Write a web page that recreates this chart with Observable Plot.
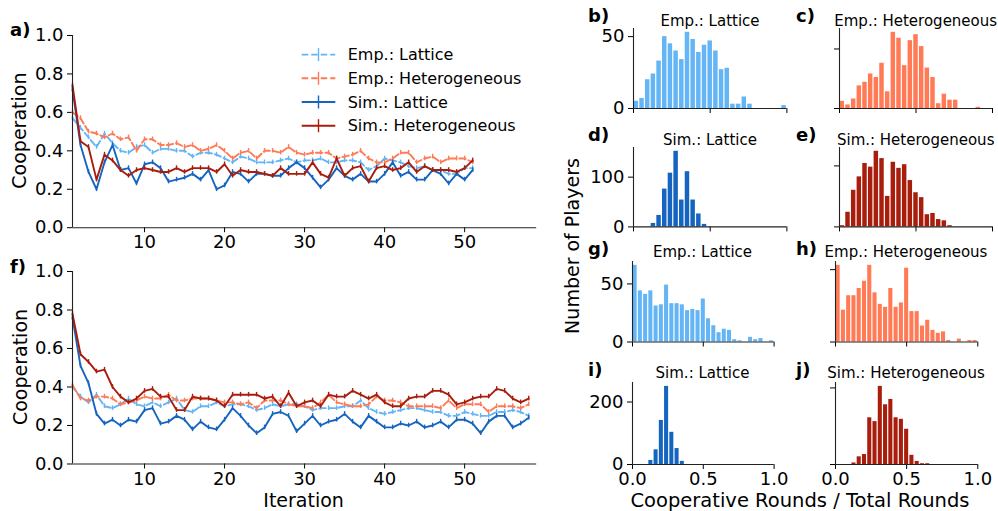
<!DOCTYPE html>
<html><head><meta charset="utf-8">
<script src="https://cdn.jsdelivr.net/npm/d3@7"></script>
<script src="https://cdn.jsdelivr.net/npm/@observablehq/plot@0.6"></script>
<style>
body{margin:0;background:#fff;}
#fig{position:relative;width:998px;height:511px;overflow:hidden;background:#fff;font-family:"DejaVu Sans",sans-serif;color:#000;}
.pl{position:absolute;}
#overlay{position:absolute;left:0;top:0;pointer-events:none;}
</style></head><body><div id="fig"></div>
<script>
// ---------- data ----------
const seriesNames = ["Emp.: Lattice", "Emp.: Heterogeneous", "Sim.: Lattice", "Sim.: Heterogeneous"];
const iterationTicks = [10, 20, 30, 40, 50];
const coopTicks = [0, 0.2, 0.4, 0.6, 0.8, 1.0];
const errHalf = 0.012;

// panel a (iterations 1..51)
const empLatA = [0.57,0.52,0.47,0.42,0.49,0.44,0.40,0.39,0.42,0.43,0.39,0.41,0.41,0.40,0.40,0.37,0.39,0.39,0.38,0.36,0.34,0.37,0.36,0.34,0.34,0.34,0.35,0.36,0.34,0.35,0.35,0.36,0.34,0.34,0.35,0.35,0.34,0.30,0.32,0.36,0.35,0.34,0.32,0.31,0.32,0.30,0.30,0.28,0.28,0.31,0.31];
const empHetA = [0.60,0.57,0.50,0.49,0.47,0.49,0.46,0.47,0.40,0.46,0.46,0.43,0.43,0.44,0.42,0.43,0.40,0.41,0.43,0.40,0.36,0.39,0.40,0.36,0.40,0.40,0.39,0.42,0.39,0.38,0.39,0.39,0.39,0.36,0.37,0.38,0.40,0.36,0.34,0.34,0.36,0.39,0.39,0.34,0.36,0.37,0.34,0.36,0.36,0.36,0.34];
const simLatA = [0.72,0.43,0.29,0.20,0.34,0.43,0.30,0.31,0.23,0.33,0.34,0.31,0.24,0.25,0.26,0.28,0.25,0.30,0.20,0.22,0.29,0.28,0.24,0.28,0.28,0.27,0.27,0.31,0.34,0.31,0.26,0.21,0.25,0.31,0.27,0.25,0.28,0.24,0.24,0.28,0.34,0.27,0.29,0.25,0.25,0.30,0.28,0.23,0.28,0.25,0.30];
const simHetA = [0.74,0.45,0.42,0.25,0.38,0.35,0.30,0.27,0.30,0.31,0.30,0.29,0.29,0.31,0.29,0.31,0.31,0.31,0.29,0.33,0.27,0.30,0.29,0.29,0.28,0.27,0.31,0.28,0.28,0.28,0.34,0.28,0.26,0.36,0.27,0.31,0.32,0.24,0.31,0.32,0.30,0.31,0.34,0.29,0.32,0.30,0.30,0.30,0.29,0.31,0.35];

// panel f (iterations 1..58)
const empLatF = [0.40,0.35,0.32,0.36,0.30,0.29,0.31,0.34,0.31,0.30,0.32,0.30,0.32,0.34,0.28,0.27,0.30,0.30,0.32,0.30,0.31,0.31,0.30,0.28,0.29,0.31,0.30,0.31,0.31,0.30,0.28,0.29,0.29,0.29,0.30,0.30,0.33,0.29,0.27,0.26,0.27,0.28,0.29,0.29,0.28,0.27,0.27,0.25,0.25,0.27,0.26,0.25,0.25,0.27,0.27,0.28,0.27,0.25];
const empHetF = [0.41,0.34,0.33,0.35,0.35,0.34,0.31,0.32,0.33,0.35,0.34,0.34,0.36,0.33,0.33,0.34,0.34,0.34,0.33,0.32,0.32,0.31,0.32,0.29,0.33,0.33,0.33,0.31,0.30,0.30,0.29,0.32,0.36,0.32,0.31,0.30,0.30,0.31,0.35,0.33,0.33,0.32,0.30,0.30,0.30,0.30,0.29,0.33,0.29,0.31,0.31,0.31,0.27,0.30,0.30,0.30,0.29,0.31];
const simLatF = [0.76,0.51,0.42,0.26,0.21,0.23,0.20,0.23,0.22,0.28,0.29,0.21,0.22,0.25,0.23,0.18,0.22,0.19,0.18,0.23,0.29,0.25,0.20,0.16,0.19,0.26,0.27,0.25,0.17,0.21,0.25,0.20,0.22,0.23,0.26,0.22,0.19,0.25,0.22,0.19,0.19,0.21,0.20,0.22,0.19,0.20,0.22,0.19,0.23,0.23,0.21,0.16,0.22,0.25,0.25,0.19,0.21,0.24];
const simHetF = [0.78,0.57,0.53,0.48,0.49,0.40,0.35,0.32,0.34,0.38,0.39,0.35,0.35,0.28,0.28,0.35,0.34,0.34,0.33,0.30,0.36,0.36,0.36,0.36,0.34,0.35,0.30,0.37,0.30,0.32,0.33,0.30,0.36,0.35,0.35,0.38,0.36,0.34,0.36,0.32,0.30,0.30,0.34,0.35,0.35,0.38,0.38,0.36,0.31,0.32,0.34,0.35,0.35,0.39,0.38,0.34,0.32,0.34];

// histograms: counts of players per bin (27 equal bins over 0..1)
const histXTicks = [0, 0.5, 1.0];
const histB = [5,7,20,24,33,50,45,40,34,53,48,39,44,47,40,27,28,3,3,8,3,0,0,0,0,0,2];
const histC = [6,3,8,19,22,29,26,38,14,64,59,36,57,62,52,34,26,4,12,7,7,0,0,0,1,0,0];
const histD = [0,0,0,7,23,76,108,152,54,111,54,26,5,0,0,0,0,0,0,0,0,0,0,0,0,0,0];
const histE = [1,12,30,41,52,49,62,56,25,53,48,51,38,28,24,10,11,6,5,1,0,0,0,0,0,0,0];
const histG = [66,44,41,44,31,32,49,33,33,32,27,28,27,37,20,14,8,11,10,2,1,0,4,2,3,0,1];
const histH = [53,22,32,32,37,42,53,34,26,24,37,24,27,51,21,21,11,15,8,6,7,1,0,2,0,1,1];
const histI = [0,0,0,13,47,141,250,103,51,10,0,0,0,0,0,0,0,0,0,0,0,0,0,0,0,0,0];
const histJ = [0,0,0,2,10,13,61,56,102,78,85,61,59,46,12,4,1,1,0,0,0,0,0,0,0,0,0];

// ---------- styles ----------
const COL = {empLat: "#64b5f6", empHet: "#ff7a55", simLat: "#1565c0", simHet: "#a81d0c"};
const SPINE = "#222";
const FONT = "DejaVu Sans";
const fig = document.getElementById("fig");

function place(svg, x0, y0, x1, y1, pad) {
  const div = document.createElement("div");
  div.className = "pl";
  div.style.left = (x0 - pad.l) + "px";
  div.style.top = (y0 - pad.t) + "px";
  div.appendChild(svg);
  fig.appendChild(div);
}

function baseStyle(fs) {
  return {background: "transparent", overflow: "visible", fontSize: fs + "px", fontFamily: FONT, maxWidth: "none", color: "#000"};
}

function linePanel(series, frame) {
  const pad = {l: 75, r: 20, t: 20, b: 40};
  const [x0, y0, x1, y1] = frame;
  const marks = [];
  for (const s of series) {
    const data = s.values.map((v, i) => ({t: i + 1, v}));
    marks.push(Plot.line(data, {x: "t", y: "v", stroke: s.color, strokeWidth: 1.9, strokeDasharray: s.dashed ? "6.5,3" : null}));
    marks.push(Plot.ruleX(data, {x: "t", y1: d => d.v - errHalf, y2: d => d.v + errHalf, stroke: s.color, strokeWidth: 1.4}));
  }
  marks.push(Plot.ruleX([1], {stroke: SPINE, strokeWidth: 1.1}));
  marks.push(Plot.ruleY([0], {stroke: SPINE, strokeWidth: 1.1}));
  const svg = Plot.plot({
    width: (x1 - x0) + pad.l + pad.r,
    height: (y1 - y0) + pad.t + pad.b,
    marginLeft: pad.l, marginRight: pad.r, marginTop: pad.t, marginBottom: pad.b,
    x: {domain: [1, 59], ticks: iterationTicks, tickSize: 5, tickPadding: 3, label: null},
    y: {domain: [0, 1], ticks: coopTicks, tickFormat: ".1f", tickSize: 5, tickPadding: 4, label: null},
    style: baseStyle(18),
    marks
  });
  place(svg, x0, y0, x1, y1, pad);
}

function histPanel(counts, color, frame, yTick, showY, showX) {
  const pad = {l: 60, r: 20, t: 10, b: 40};
  const [x0, y0, x1, y1] = frame;
  const n = counts.length;
  const data = counts.map((c, i) => ({a: i / n, b: (i + 1) / n, c}));
  const svg = Plot.plot({
    width: (x1 - x0) + pad.l + pad.r,
    height: (y1 - y0) + pad.t + pad.b,
    marginLeft: pad.l, marginRight: pad.r, marginTop: pad.t, marginBottom: pad.b,
    x: {domain: [0, 1], ticks: histXTicks, tickFormat: showX ? ".1f" : () => "", tickSize: 5, tickPadding: 3, label: null},
    y: {domain: [0, d3.max(counts) * 1.05], ticks: [0, yTick], tickFormat: showY ? "d" : () => "", tickSize: 5, tickPadding: 4, label: null},
    style: baseStyle(18),
    marks: [
      Plot.rectY(data, {x1: "a", x2: "b", y: "c", fill: color, insetLeft: 0.6, insetRight: 0.6}),
      Plot.ruleX([0], {stroke: SPINE, strokeWidth: 1.1}),
      Plot.ruleY([0], {stroke: SPINE, strokeWidth: 1.1})
    ]
  });
  place(svg, x0, y0, x1, y1, pad);
}

const panelA = [
  {values: empLatA, color: COL.empLat, dashed: true},
  {values: empHetA, color: COL.empHet, dashed: true},
  {values: simLatA, color: COL.simLat, dashed: false},
  {values: simHetA, color: COL.simHet, dashed: false}
];
const panelF = [
  {values: empLatF, color: COL.empLat, dashed: true},
  {values: empHetF, color: COL.empHet, dashed: true},
  {values: simLatF, color: COL.simLat, dashed: false},
  {values: simHetF, color: COL.simHet, dashed: false}
];

linePanel(panelA, [71.5, 34.5, 535.7, 226.7]);
linePanel(panelF, [71.5, 270.8, 535.7, 463.3]);

histPanel(histB, COL.empLat, [633.3, 28.3, 786.7, 108.3], 50, true, false);
histPanel(histC, COL.empHet, [839.3, 28.3, 992.3, 108.3], 50, false, false);
histPanel(histD, COL.simLat, [633.3, 147.3, 786.7, 226.7], 100, true, false);
histPanel(histE, COL.simHet, [839.3, 147.3, 992.3, 226.7], 50, false, false);
histPanel(histG, COL.empLat, [631.7, 261, 773.3, 341.5], 50, true, false);
histPanel(histH, COL.empHet, [835, 261, 977.3, 341.5], 50, false, false);
histPanel(histI, COL.simLat, [631.7, 382, 773.3, 464], 200, true, true);
histPanel(histJ, COL.simHet, [835, 382, 977.3, 464], 100, false, true);

// ---------- overlay texts ----------
const NS = "http://www.w3.org/2000/svg";
const ov = document.createElementNS(NS, "svg");
ov.setAttribute("id", "overlay");
ov.setAttribute("width", 998); ov.setAttribute("height", 511);
ov.style.fontFamily = FONT;
fig.appendChild(ov);
function txt(s, x, y, o = {}) {
  const t = document.createElementNS(NS, "text");
  t.textContent = s;
  t.setAttribute("x", x); t.setAttribute("y", y);
  t.setAttribute("font-size", o.size || 18);
  if (o.bold) t.setAttribute("font-weight", "bold");
  if (o.anchor) t.setAttribute("text-anchor", o.anchor);
  if (o.rotate) t.setAttribute("transform", `rotate(-90 ${x} ${y})`);
  if (o.dy) t.setAttribute("dy", o.dy);
  t.setAttribute("fill", "#000");
  ov.appendChild(t);
}
function ln(x1, y1, x2, y2, color, w, dash) {
  const l = document.createElementNS(NS, "line");
  l.setAttribute("x1", x1); l.setAttribute("y1", y1);
  l.setAttribute("x2", x2); l.setAttribute("y2", y2);
  l.setAttribute("stroke", color); l.setAttribute("stroke-width", w);
  if (dash) l.setAttribute("stroke-dasharray", dash);
  ov.appendChild(l);
}

// panel letters
const letters = [["a)", 10, 36], ["f)", 10, 273], ["b)", 588, 22], ["c)", 796, 22], ["d)", 588, 141], ["e)", 796, 141], ["g)", 588, 255], ["h)", 796, 255], ["i)", 588, 376], ["j)", 796, 376]];
for (const [s, x, y] of letters) txt(s, x, y, {bold: true, size: 18});

// histogram titles
const titles = [
  [seriesNames[0], 710, 26], [seriesNames[1], 915.7, 26],
  [seriesNames[2], 710, 145], [seriesNames[3], 915.7, 145],
  [seriesNames[0], 702.5, 257], [seriesNames[1], 906, 257],
  [seriesNames[2], 702.5, 378], [seriesNames[3], 906, 378]
];
for (const [s, x, y] of titles) txt(s, x, y, {size: 15, anchor: "middle"});

// axis labels
txt("Cooperation", 26.5, 130.6, {size: 19, anchor: "middle", rotate: true});
txt("Cooperation", 26.5, 367, {size: 19, anchor: "middle", rotate: true});
txt("Number of Players", 579, 246, {size: 19, anchor: "middle", rotate: true});
txt("Iteration", 303.6, 506.5, {size: 19, anchor: "middle"});
txt("Cooperative Rounds / Total Rounds", 800, 507, {size: 19.5, anchor: "middle"});

// legend
const legend = [
  [seriesNames[0], COL.empLat, true, 54.6],
  [seriesNames[1], COL.empHet, true, 78.3],
  [seriesNames[2], COL.simLat, false, 102],
  [seriesNames[3], COL.simHet, false, 125.7]
];
for (const [s, c, dashed, y] of legend) {
  ln(301.7, y, 335.3, y, c, 1.9, dashed ? "6.5,3" : null);
  ln(318.5, y - 6.5, 318.5, y + 6.5, c, 1.4);
  txt(s, 347.7, y, {size: 16, dy: "0.36em"});
}
</script></body></html>
